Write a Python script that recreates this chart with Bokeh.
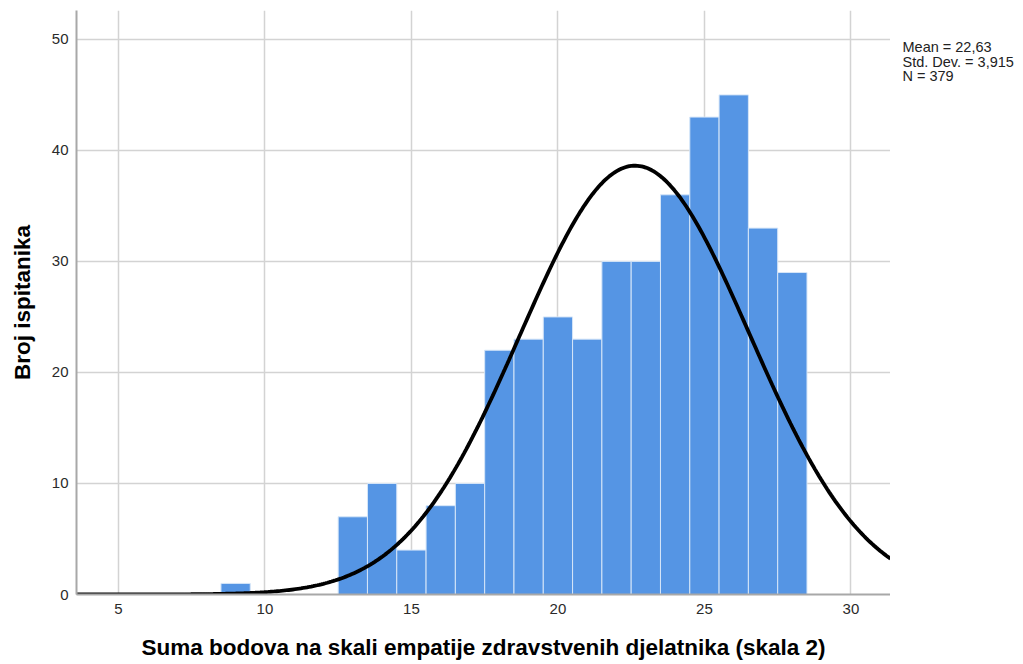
import numpy as np
from bokeh.plotting import figure
from bokeh.models import Range1d, FixedTicker
from bokeh.layouts import row
from bokeh.core.properties import value
from bokeh.embed import file_html
from bokeh.resources import INLINE

# data
scores = [9, 13, 14, 15, 16, 17, 18, 19, 20, 21, 22, 23, 24, 25, 26, 27, 28]
counts = [1, 7, 10, 4, 8, 10, 22, 23, 25, 23, 30, 30, 36, 43, 45, 33, 29]
mean_val = 22.63
sd_val = 3.915
n_val = 379
x_ticks = [5, 10, 15, 20, 25, 30]
y_ticks = [0, 10, 20, 30, 40, 50]
stats_lines = ["Mean = 22,63", "Std. Dev. = 3,915", "N = 379"]

FONT = "Liberation Sans"

p = figure(width=890, height=664, output_backend="svg", toolbar_location=None,
           x_range=Range1d(3.57, 31.35), y_range=Range1d(0, 52.6),
           min_border_left=76, min_border_right=0, min_border_top=10,
           min_border_bottom=70)
p.outline_line_color = None
p.background_fill_color = "white"

p.vbar(x=scores, top=counts, width=1.0, fill_color="#5595E4",
       line_color="#d6e6f8", line_width=1)

xs = np.linspace(3.57, 31.35, 400)
ys = n_val * 1.0 / (sd_val * np.sqrt(2 * np.pi)) * np.exp(-0.5 * ((xs - mean_val) / sd_val) ** 2)
p.line(xs, ys, line_color="black", line_width=3.8)

for ax in (p.xaxis[0], p.yaxis[0]):
    ax.major_tick_line_color = None
    ax.minor_tick_line_color = None
    ax.axis_line_color = "#a8a8a8"
    ax.axis_line_width = 2
    ax.major_label_text_font = FONT
    ax.major_label_text_font_size = "15px"
    ax.major_label_text_color = "#2a2a2a"
    ax.axis_label_text_font = FONT
    ax.axis_label_text_font_style = "bold"
    ax.axis_label_text_font_size = "22.5px"
    ax.axis_label_text_color = "black"

p.xaxis.ticker = FixedTicker(ticks=x_ticks)
p.yaxis.ticker = FixedTicker(ticks=y_ticks)
p.xaxis.axis_label = "Suma bodova na skali empatije zdravstvenih djelatnika (skala 2)"
p.yaxis.axis_label = "Broj ispitanika"
p.xaxis.major_label_standoff = 3
p.xaxis.axis_label_standoff = 18
p.yaxis.major_label_standoff = 2
p.yaxis.axis_label_standoff = 14

p.xgrid.ticker = FixedTicker(ticks=x_ticks)
p.ygrid.ticker = FixedTicker(ticks=y_ticks)
p.grid.grid_line_color = "#d3d3d3"
p.grid.grid_line_width = 1.5

# side panel with the statistics box (pixel-like coordinates, y downwards)
side = figure(width=133, height=664, output_backend="svg", toolbar_location=None,
              x_range=Range1d(0, 133), y_range=Range1d(664, 0),
              min_border=0)
side.axis.visible = False
side.grid.visible = False
side.outline_line_color = None
side.text(x=[12] * len(stats_lines), y=[42 + 16.2 * i for i in range(len(stats_lines))],
          text=stats_lines, text_font=value(FONT), text_font_size="14.5px",
          text_color="#222222", text_baseline="middle", text_align="left")

layout = row(p, side, spacing=0)
open("out.html", "w").write(file_html(layout, INLINE))
